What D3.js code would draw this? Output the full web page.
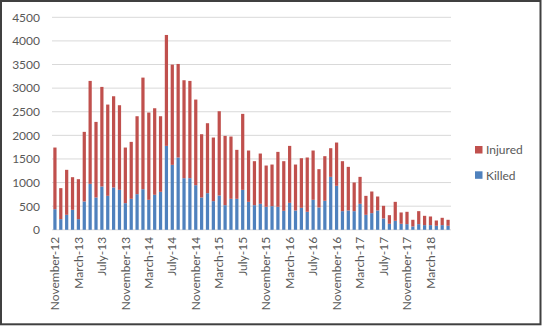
<!DOCTYPE html>
<html>
<head>
<meta charset="utf-8">
<script src="https://cdn.jsdelivr.net/npm/d3@7"></script>
<style>
  html, body { margin: 0; padding: 0; background: #fff; }
  svg { display: block; }
  text { font-family: Lato, "Open Sans", sans-serif; fill: #595959; }
</style>
</head>
<body>
<svg id="chart" width="542" height="326"></svg>
<script>
// Monthly casualties, November 2012 – June 2018
const months = [
  "November-12", "December-12",
  "January-13", "February-13", "March-13", "April-13", "May-13", "June-13",
  "July-13", "August-13", "September-13", "October-13", "November-13", "December-13",
  "January-14", "February-14", "March-14", "April-14", "May-14", "June-14",
  "July-14", "August-14", "September-14", "October-14", "November-14", "December-14",
  "January-15", "February-15", "March-15", "April-15", "May-15", "June-15",
  "July-15", "August-15", "September-15", "October-15", "November-15", "December-15",
  "January-16", "February-16", "March-16", "April-16", "May-16", "June-16",
  "July-16", "August-16", "September-16", "October-16", "November-16", "December-16",
  "January-17", "February-17", "March-17", "April-17", "May-17", "June-17",
  "July-17", "August-17", "September-17", "October-17", "November-17", "December-17",
  "January-18", "February-18", "March-18", "April-18", "May-18", "June-18"
];

const killed = [
  437, 226, 317, 423, 226, 600, 973, 684, 917, 719, 896, 846,
  564, 656, 755, 860, 635, 741, 804, 1777, 1375, 1531, 1093, 1093,
  945, 684, 776, 607, 726, 522, 656, 656, 846, 592, 522, 550,
  487, 501, 487, 402, 571, 409, 466, 381, 635, 473, 614, 1121,
  931, 395, 409, 395, 550, 317, 353, 409, 240, 127, 190, 127,
  120, 71, 120, 99, 99, 85, 99, 85
];

const injured = [
  1305, 656, 953, 691, 846, 1474, 2180, 1601, 2109, 1933, 1932, 1792,
  1178, 1206, 1650, 2363, 1848, 1833, 1601, 2349, 2123, 1981, 2074, 2060,
  1813, 1340, 1481, 1347, 1785, 1467, 1319, 1037, 1609, 1087, 931, 1065,
  874, 881, 1163, 1051, 1206, 973, 1050, 1150, 1044, 811, 945, 607,
  917, 1058, 924, 607, 571, 402, 458, 296, 268, 183, 402, 240,
  261, 141, 275, 197, 183, 112, 155, 127
];

const yTicks = [0, 500, 1000, 1500, 2000, 2500, 3000, 3500, 4000, 4500];
const seriesNames = ["Killed", "Injured"];
const seriesColors = { Killed: "#4F81BD", Injured: "#C0504D" };

const svg = d3.select("#chart");
const W = 542, H = 326;
const plot = { left: 52, right: 451, top: 17.3, bottom: 229.8 };

svg.append("rect")
  .attr("width", W).attr("height", H).attr("fill", "#fff");

const x = d3.scaleBand()
  .domain(months)
  .range([plot.left, plot.right])
  .paddingInner(0.45)
  .paddingOuter(0.225);

const y = d3.scaleLinear()
  .domain([0, 4500])
  .range([plot.bottom, plot.top]);

// horizontal gridlines
svg.append("g")
  .selectAll("line")
  .data(yTicks)
  .join("line")
  .attr("x1", plot.left).attr("x2", plot.right)
  .attr("y1", d => y(d)).attr("y2", d => y(d))
  .attr("stroke", "#D9D9D9").attr("stroke-width", 1);

// value axis labels
const yAxis = d3.axisLeft(y).tickValues(yTicks).tickFormat(d3.format("d"))
  .tickSize(0).tickPadding(0);
const gy = svg.append("g").attr("transform", "translate(40,0)").call(yAxis);
gy.select(".domain").remove();
gy.selectAll("text")
  .style("font-family", "Lato, 'Open Sans', sans-serif")
  .style("font-size", "12px")
  .attr("fill", "#595959");

// stacked bars
const rows = months.map((m, i) => ({ month: m, Killed: killed[i], Injured: injured[i] }));
const stacked = d3.stack().keys(seriesNames)(rows);

svg.append("g")
  .selectAll("g")
  .data(stacked)
  .join("g")
  .attr("fill", d => seriesColors[d.key])
  .selectAll("rect")
  .data(d => d)
  .join("rect")
  .attr("x", d => x(d.data.month))
  .attr("width", x.bandwidth())
  .attr("y", d => y(d[1]))
  .attr("height", d => y(d[0]) - y(d[1]));

// category axis: every fourth month, rotated
const xAxis = d3.axisBottom(x)
  .tickValues(months.filter((m, i) => i % 4 === 0))
  .tickSize(0).tickPadding(0);
const gx = svg.append("g").attr("transform", `translate(0,${plot.bottom})`).call(xAxis);
gx.select(".domain").remove();
gx.selectAll("text")
  .style("font-family", "Lato, 'Open Sans', sans-serif")
  .style("font-size", "12px")
  .attr("fill", "#595959")
  .attr("text-anchor", "end")
  .attr("transform", "translate(0,7) rotate(-90)")
  .attr("x", 0).attr("y", 0).attr("dy", "0.35em");

// legend
const legendItems = ["Injured", "Killed"];
const lg = svg.append("g")
  .selectAll("g")
  .data(legendItems)
  .join("g")
  .attr("transform", (d, i) => `translate(475,${146 + i * 25.3})`);
lg.append("rect")
  .attr("width", 7.5).attr("height", 7.5)
  .attr("fill", d => seriesColors[d]);
lg.append("text")
  .attr("x", 11).attr("y", 8.4)
  .style("font-size", "12px")
  .text(d => d);

// chart frame
svg.append("rect")
  .attr("x", 1).attr("y", 1)
  .attr("width", 539.5).attr("height", 323.3)
  .attr("fill", "none")
  .attr("stroke", "#404040")
  .attr("stroke-width", 2);
</script>
</body>
</html>
